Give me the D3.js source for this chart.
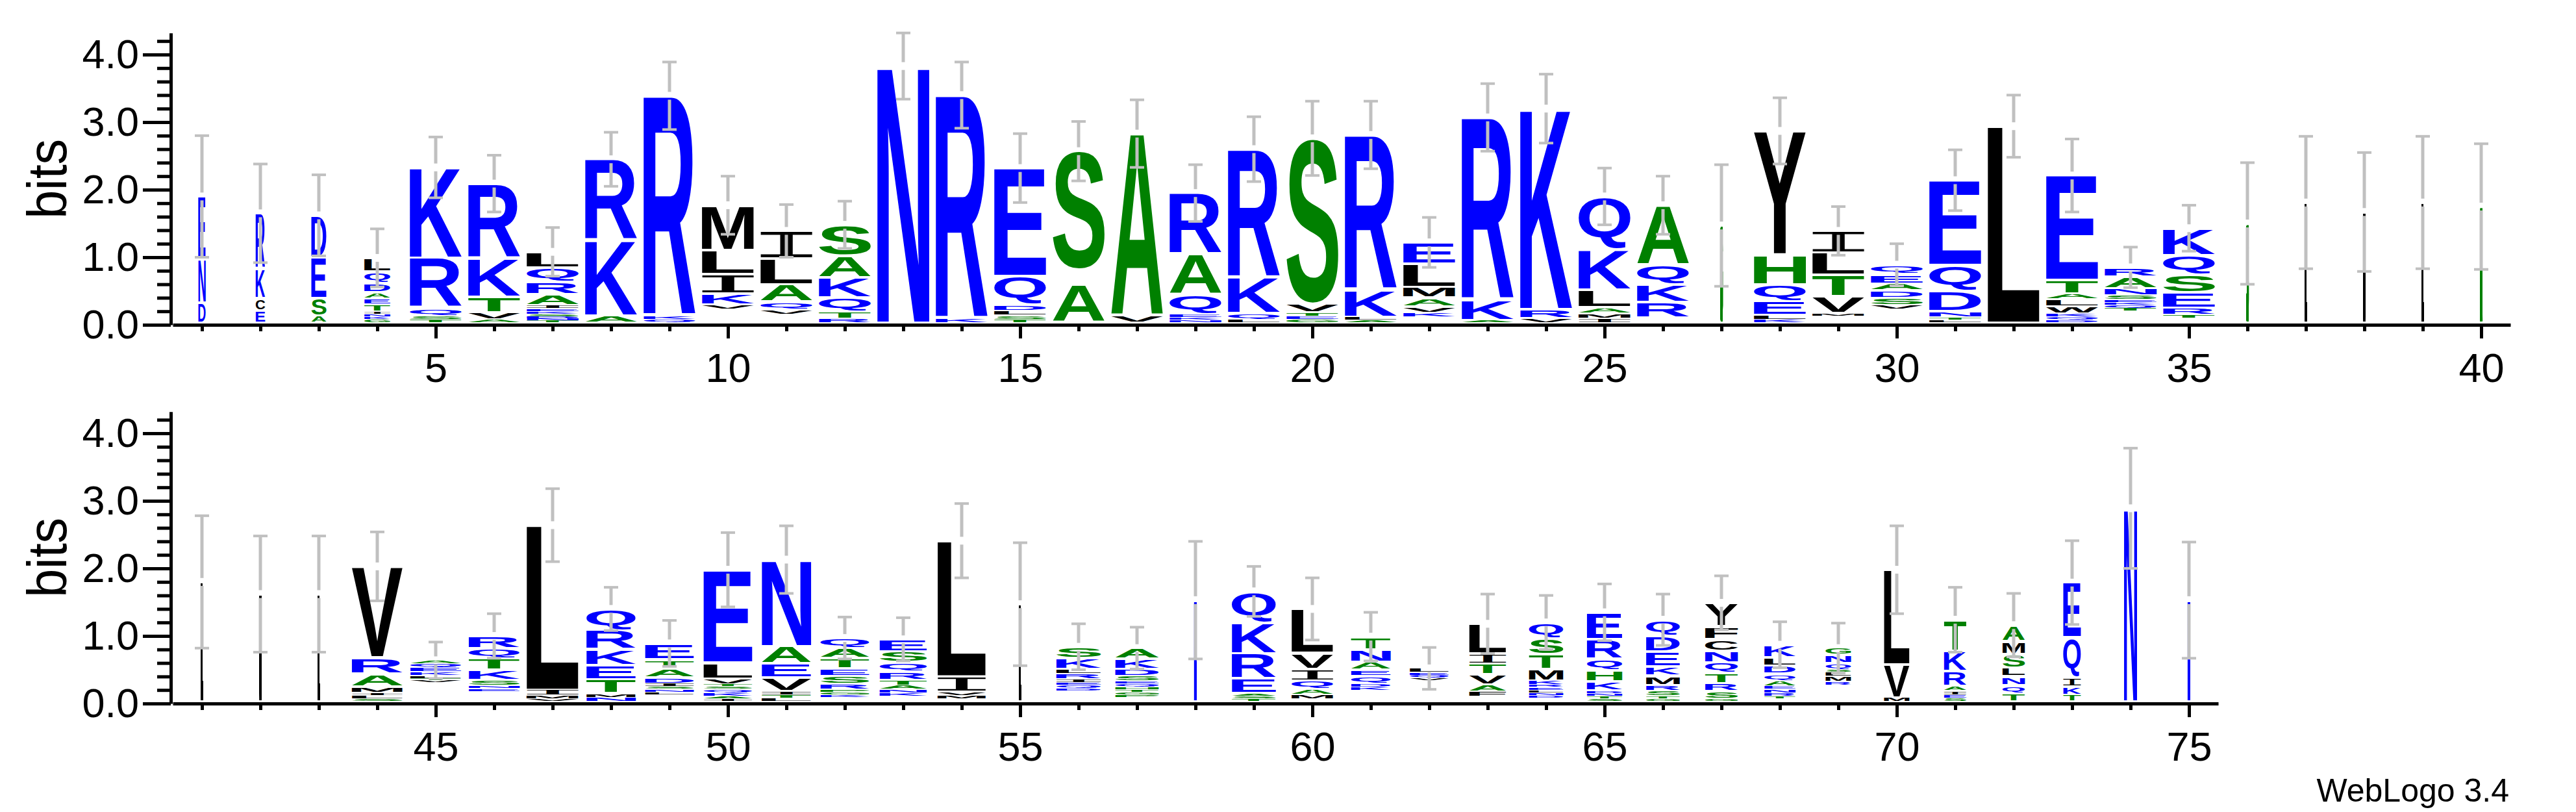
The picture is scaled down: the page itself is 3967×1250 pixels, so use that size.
<!DOCTYPE html>
<html>
<head>
<meta charset="utf-8">
<script src="https://cdn.jsdelivr.net/npm/d3@7"></script>
<style>
  body { margin: 0; background: #fff; }
  svg { display: block; }
</style>
</head>
<body>
<script>
// sequence positions, one stack each
var positions = d3.range(1, 76);

// letters of each stack, bottom to top ("." = residues too small to draw)
var stackLetters = [
  "DNE", "ECKR", "ASED", "GKNITEADQL", "TSQRK", "AVTKR", "TNDSKEIARQL", "AKR", "QKR", ".VKILM",
  ".VQALI", "RTQKAS", "N", "KR", "TSLDQE", "A.S", "VA", "NKEQAR", "LQKR", "GETVS",
  "ALKR", ".KVAMLE", "AKR", "VRK", "IMALKQ", ".RKQA", "G", "KLEQHY", ".MVTLI", ".VSDAEQ",
  "LTNDQE", "L", "DQKWLATE", ".TQKESNAR", ".TRESQK", "S", "L", "V", "L", "A",
  "L", "V", "L", "SLIMARV", ".VTLKEQA", ".ENSKTQR", "VMIL", "NMTEKRQ", ".LNSIDATE", "IAKQSTVLE",
  "LTIVEAN", ".KGPRSETAQ", ".KNATRQSE", ".MVIL", "L", ".DQEIRLKS", ".PGTHQESDKA", "K", "TSAERKQ", ".MAQIVL",
  ".KDQEANT", ".VQEL", ".FAVTIL", ".DNLERKMTSQ", "STNDKHQRE", "GTSRMKEDQ", "GSRTQNCFY", ".TRNEAQDLK", ".RMLSQNG", "MVL",
  "SEIARKT", "TQNLSMA", "TKIQE", "N", "N"
];

// bits of each letter, same order
var stackBits = [
  [.30, .65, .92], [.18, .18, .44, .82], [.10, .26, .61, .62],
  [.05, .04, .04, .04, .10, .09, .09, .14, .17, .20], [.05, .05, .12, .74, 1.34],
  [.05, .10, .23, .57, 1.11], [.03, .03, .03, .04, .04, .04, .05, .16, .19, .21, .23],
  [.10, 1.12, 1.20], [.05, .05, 3.26], [.20, .07, .16, .29, .36, .66],
  [.12, .07, .12, .26, .38, .41], [.06, .10, .21, .30, .32, .46], [3.80], [.06, 3.31],
  [.05, .06, .07, .09, .42, 1.60], [.56, .22, 1.76], [.10, 2.70], [.04, .04, .05, .29, .60, .90],
  [.05, .09, .53, 1.90], [.05, .05, .05, .13, 2.45], [.04, .05, .40, 2.29],
  [.09, .06, .09, .13, .16, .34, .32], [.04, .30, 2.70], [.07, .13, 2.97],
  [.07, .07, .09, .26, .60, .78], [.07, .24, .26, .29, .88], [1.44],
  [.05, .06, .21, .25, .44, 1.83], [.10, .04, .25, .32, .33, .32],
  [.20, .06, .11, .11, .10, .14, .14], [.04, .04, .09, .30, .38, 1.26], [2.91],
  [.04, .05, .05, .10, .11, .08, .20, 1.55], [.17, .05, .04, .04, .04, .07, .10, .17, .14],
  [.07, .05, .10, .23, .26, .29, .40], [1.47], [1.78], [1.64], [1.78], [1.72],
  [1.77], [1.59], [1.59], [.04, .05, .04, .09, .19, .24, 1.35],
  [.28, .03, .03, .04, .06, .06, .06, .05], [.15, .04, .04, .09, .15, .17, .15, .18],
  [.04, .05, .08, 2.44], [.06, .06, .21, .21, .24, .28, .31],
  [.10, .04, .04, .04, .05, .08, .14, .13, .24], [.04, .04, .05, .05, .04, .04, .08, .24, 1.37],
  [.05, .05, .05, .20, .21, .26, 1.28], [.06, .04, .04, .04, .08, .12, .11, .15, .15, .15],
  [.08, .05, .05, .06, .08, .12, .14, .16, .18], [.04, .05, .05, .23, 2.01], [1.44],
  [.16, .04, .04, .04, .05, .08, .07, .16, .17], [.06, .04, .04, .04, .04, .04, .04, .08, .10, .15, .16],
  [1.50], [.04, .04, .04, .22, .37, .46, .46], [.04, .06, .08, .13, .17, .24, .65],
  [.16, .05, .05, .12, .09, .12, .18, .19], [.31, .04, .04, .04, .06],
  [.07, .08, .10, .15, .16, .15, .44], [.05, .04, .04, .04, .04, .04, .06, .17, .22, .24, .23],
  [.04, .04, .04, .04, .14, .16, .17, .29, .40], [.04, .04, .08, .08, .14, .14, .22, .24, .23],
  [.04, .11, .12, .15, .16, .17, .17, .19, .35], [.04, .04, .05, .05, .05, .08, .10, .12, .12, .19],
  [.24, .05, .08, .06, .04, .10, .12, .10], [.06, .49, 1.40], [.05, .05, .06, .07, .22, .30, .46],
  [.12, .12, .13, .13, .20, .19, .24], [.10, .12, .14, .59, .81], [2.86], [1.50]
];

// fraction of sequences without a gap (stack width)
var stackWidths = [
  .14, .18, .29, .50, 1, 1, 1, 1, 1, 1, 1, 1, 1, 1, 1, 1, 1, 1, 1, 1,
  1, 1, 1, 1, 1, 1, .025, 1, 1, 1, 1, 1, 1, 1, 1, .025, .025, .025, .025, .025,
  .025, .025, .025, .98, .98, .98, 1, .95, .94, .94, .95, .94, .91, .93, .025, .86, .84, .025, .85, .80,
  .76, .75, .71, .66, .68, .65, .63, .60, .49, .49, .43, .43, .34, .25, .025
];

// half length of the error bars, bits
var errorBits = [
  .90, .73, .60, .43, .45, .42, .36, .40, .50, .43, .39, .35, .49, .49, .51, .44, .50, .42, .48, .55,
  .50, .37, .50, .51, .42, .43, .90, .49, .36, .31, .45, .46, .54, .30, .34, .90, .98, .88, .98, .93,
  .98, .86, .86, .51, .27, .33, .54, .32, .34, .55, .50, .31, .32, .55, .91, .34, .31, .87, .37, .46,
  .36, .31, .44, .40, .42, .38, .40, .34, .37, .65, .48, .47, .62, .89, .86
];

var yMajor = [0, 1, 2, 3, 4];
var rowFirst = [1, 41];
var rowLast = [40, 75];

var colorGroups = { "#0000ff": "RKDENQ", "#008000": "SGHTAP", "#000000": "YVMCLFIW" };
function letterColor(c) {
  for (var k in colorGroups) if (colorGroups[k].indexOf(c) >= 0) return k;
  return "#000000";
}

var labelFont = "'Liberation Sans', Arial, Helvetica, sans-serif";
function glyphFamily(c) { return c === "I" ? "'DejaVu Sans Mono', monospace" : labelFont; }
function glyphWeight(c) { return c === "I" ? 400 : 700; }

// ink box of a glyph, measured once on a canvas
var ctx = document.createElement("canvas").getContext("2d");
var inkCache = {};
function ink(c) {
  if (!inkCache[c]) {
    ctx.font = glyphWeight(c) + " 200px " + glyphFamily(c);
    var m = ctx.measureText(c);
    inkCache[c] = { l: m.actualBoundingBoxLeft, r: m.actualBoundingBoxRight,
                    a: m.actualBoundingBoxAscent, d: m.actualBoundingBoxDescent };
  }
  return inkCache[c];
}

var svg = d3.select("body").append("svg")
    .attr("width", 3967)
    .attr("height", 1250);

// very narrow stacks: thicken the squeezed glyph into a solid thin line
var thin = svg.append("defs").append("filter")
    .attr("id", "thin")
    .attr("filterUnits", "userSpaceOnUse")
    .attr("x", 0).attr("y", 0).attr("width", 3967).attr("height", 1250);
thin.append("feMorphology").attr("operator", "dilate").attr("radius", "0.8 0");
thin.append("feComponentTransfer").append("feFuncA").attr("type", "linear").attr("slope", 4);

var bitPx = 104, colPx = 90, fullWidth = 80, baseBits = 0.03;
var rowBase = [500, 1083];

rowFirst.forEach(function (first, r) {
    var last = rowLast[r];
    var n = last - first + 1;
    var x = d3.scaleLinear().domain([first - 0.5, last + 0.5]).range([266, 266 + n * colPx]);
    var y = d3.scaleLinear().domain([0, 4.32]).range([rowBase[r], rowBase[r] - 4.32 * bitPx]);
    var g = svg.append("g");

    var cols = positions.filter(function (p) { return p >= first && p <= last; });

    // letter stacks
    var stacks = g.selectAll(".stack").data(cols).enter().append("g").attr("class", "stack");
    stacks.each(function (p) {
        var i = p - 1;
        var w = fullWidth * stackWidths[i];
        var x0 = x(p) - w / 2;
        var acc = baseBits;
        var sel = d3.select(this).append("g");
        if (w < 4) sel.attr("filter", "url(#thin)");
        stackLetters[i].split("").forEach(function (c, j) {
            var h = stackBits[i][j];
            var yb = y(acc), yt = y(acc + h);
            acc += h;
            var hpx = yb - yt;
            if (c === "." || hpx < 1.5) return;
            var pad = Math.min(2, hpx * 0.15);
            var k = ink(c);
            sel.append("text")
                .attr("transform", "translate(" + x0 + "," + (yt + pad) + ") scale(" +
                      (w / (k.l + k.r)) + "," + ((hpx - 2 * pad) / (k.a + k.d)) + ") translate(" + k.l + "," + k.a + ")")
                .attr("font-family", glyphFamily(c))
                .attr("font-weight", glyphWeight(c))
                .attr("font-size", 200)
                .attr("fill", letterColor(c))
                .text(c);
        });
        this.__top = acc;
    });

    // error bars, with a small break at the top of the stack
    stacks.each(function (p) {
        var i = p - 1;
        var top = this.__top, e = errorBits[i];
        var cx = x(p), yt = y(top), hi = y(top + e), lo = y(top - e);
        var eb = d3.select(this).append("g").attr("stroke", "#c0c0c0");
        eb.append("line").attr("x1", cx).attr("x2", cx).attr("y1", hi).attr("y2", yt - 6).attr("stroke-width", 5);
        eb.append("line").attr("x1", cx).attr("x2", cx).attr("y1", yt + 6).attr("y2", lo).attr("stroke-width", 5);
        [hi, lo].forEach(function (yy) {
            eb.append("line").attr("x1", cx - 11).attr("x2", cx + 11).attr("y1", yy).attr("y2", yy).attr("stroke-width", 4);
        });
    });

    // y axis
    var yMinor = g.append("g").attr("transform", "translate(263,0)")
        .call(d3.axisLeft(y).tickValues(d3.range(0, 4.31, 0.2)).tickSize(21).tickSizeOuter(0).tickFormat(""));
    yMinor.select(".domain").remove();
    var yAxis = g.append("g").attr("transform", "translate(263,0)")
        .call(d3.axisLeft(y).tickValues(yMajor).tickSize(43).tickSizeOuter(0).tickPadding(6).tickFormat(d3.format(".1f")));

    // x axis
    var xMinor = g.append("g").attr("transform", "translate(0," + rowBase[r] + ")")
        .call(d3.axisBottom(x).tickValues(cols).tickSize(10).tickSizeOuter(0).tickFormat(""));
    xMinor.select(".domain").remove();
    var xAxis = g.append("g").attr("transform", "translate(0," + rowBase[r] + ")")
        .call(d3.axisBottom(x).tickValues(cols.filter(function (p) { return p % 5 === 0; }))
              .tickSize(21).tickSizeOuter(0).tickPadding(22));

    [yMinor, yAxis, xMinor, xAxis].forEach(function (a) {
        a.selectAll("line, path").attr("stroke", "#000").attr("stroke-width", 5);
        a.selectAll("text").attr("font-size", 63).attr("font-family", labelFont).attr("fill", "#000");
    });

    g.append("text")
        .attr("transform", "translate(102," + (y(0) + y(4.32)) / 2 + ") rotate(-90)")
        .attr("text-anchor", "middle")
        .attr("font-family", labelFont)
        .attr("font-size", 86)
        .attr("textLength", 123)
        .attr("lengthAdjust", "spacingAndGlyphs")
        .text("bits");
});

svg.append("text")
    .attr("x", 3864)
    .attr("y", 1234)
    .attr("text-anchor", "end")
    .attr("font-family", labelFont)
    .attr("font-size", 50)
    .text("WebLogo 3.4");
</script>
</body>
</html>
